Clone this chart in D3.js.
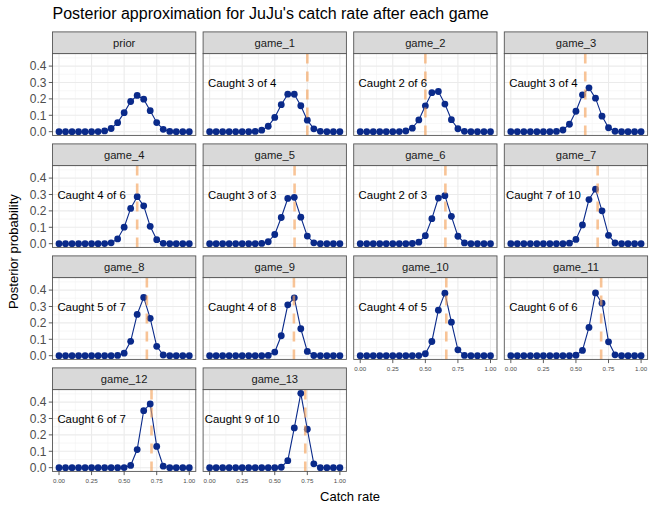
<!DOCTYPE html>
<html><head><meta charset="utf-8">
<script src="https://cdn.jsdelivr.net/npm/d3@7/dist/d3.min.js"></script>
<style>body{margin:0;background:#fff}svg{display:block}</style>
</head><body><svg id="c" width="655" height="508"></svg>
<script>
// ---- data ----
const theta = [0,0.05,0.1,0.15,0.2,0.25,0.3,0.35,0.4,0.45,0.5,0.55,0.6,0.65,0.7,0.75,0.8,0.85,0.9,0.95,1];
const panelNames = ["prior","game_1","game_2","game_3","game_4","game_5","game_6","game_7","game_8","game_9","game_10","game_11","game_12","game_13"];
const prior   = [0,0,0,0,0,0.0001,0.0008,0.0048,0.0194,0.0552,0.1161,0.1840,0.2211,0.1983,0.1282,0.0558,0.0144,0.0017,0.0001,0,0];
const game_1  = [0,0,0,0,0,0,0.0002,0.0016,0.0089,0.0331,0.0868,0.1648,0.2285,0.2282,0.1580,0.0704,0.0176,0.0019,0,0,0];
const game_2  = [0,0,0,0,0,0,0.0005,0.0041,0.0215,0.0714,0.1578,0.2380,0.2451,0.1684,0.0730,0.0180,0.0021,0.0001,0,0,0];
const game_3  = [0,0,0,0,0,0,0.0001,0.0014,0.0104,0.0452,0.1245,0.2250,0.2674,0.2044,0.0948,0.0240,0.0027,0.0001,0,0,0];
const game_4  = [0,0,0,0,0,0,0,0.0005,0.0050,0.0289,0.1005,0.2153,0.2864,0.2308,0.1058,0.0245,0.0023,0.0001,0,0,0];
const game_5  = [0,0,0,0,0,0,0,0.0001,0.0014,0.0117,0.0559,0.1596,0.2757,0.2824,0.1617,0.0461,0.0052,0.0001,0,0,0];
const game_6  = [0,0,0,0,0,0,0,0.0001,0.0010,0.0092,0.0491,0.1524,0.2784,0.2930,0.1668,0.0454,0.0047,0.0001,0,0,0];
const game_7  = [0,0,0,0,0,0,0,0,0.0002,0.0031,0.0258,0.1141,0.2691,0.3322,0.2001,0.0511,0.0043,0.0001,0,0,0];
const game_8  = [0,0,0,0,0,0,0,0,0,0.0013,0.0152,0.0875,0.2519,0.3552,0.2277,0.0570,0.0042,0,0,0,0];
const game_9  = [0,0,0,0,0,0,0,0,0.0001,0.0018,0.0220,0.1217,0.3100,0.3529,0.1642,0.0262,0.0010,0,0,0,0];
const game_10 = [0,0,0,0,0,0,0,0,0,0.0007,0.0119,0.0866,0.2778,0.3812,0.2045,0.0358,0.0014,0,0,0,0];
const game_11 = [0,0,0,0,0,0,0,0,0,0.0001,0.0025,0.0319,0.1726,0.3828,0.3203,0.0847,0.0051,0,0,0,0];
const game_12 = [0,0,0,0,0,0,0,0,0,0,0.0007,0.0137,0.1107,0.3474,0.3887,0.1296,0.0091,0.0001,0,0,0];
const game_13 = [0,0,0,0,0,0,0,0,0,0,0.0001,0.0027,0.0430,0.2427,0.4535,0.2344,0.0235,0.0002,0,0,0];
const posteriors = [prior,game_1,game_2,game_3,game_4,game_5,game_6,game_7,game_8,game_9,game_10,game_11,game_12,game_13];
const caught  = [null,3,2,3,4,3,2,7,5,4,4,6,6,9];
const targets = [null,4,6,4,6,3,3,10,7,8,5,6,7,10];
const cumRate = [null,0.75,0.5,0.5714,0.6,0.6522,0.6538,0.6667,0.6744,0.6471,0.6607,0.6935,0.7101,0.7342];
const xTicks = [0,0.25,0.5,0.75,1];
const xTickLabels = ["0.00","0.25","0.50","0.75","1.00"];
const xMinor = [0.125,0.375,0.625,0.875];
const yTicks = [0,0.1,0.2,0.3,0.4];
const yTickLabels = ["0.0","0.1","0.2","0.3","0.4"];
const yMinor = [0.05,0.15,0.25,0.35,0.45];
const labelX = 0.25, labelY = 0.3;

// ---- layout ----
const FONT = "'Liberation Sans', Arial, Helvetica, sans-serif";
const ncol = 4;
const left0 = 52.5, colPitch = 150.6, panelW = 143.3;
const stripTop0 = 31.9, stripH = 21.7, panelH = 81.8, rowPitch = 112;
const pointColor = "#0a2a8a";
const vlineColor = "#F4A460";
const borderColor = "#555";

const svg = d3.select("#c").style("font-family", FONT);
svg.append("rect").attr("width",655).attr("height",508).attr("fill","#fff");

const x = d3.scaleLinear().domain([-0.05,1.05]).range([0,panelW]);
const yMaxV = d3.max(posteriors.flat());
const y = d3.scaleLinear().domain([-0.05*yMaxV, yMaxV*1.05]).range([panelH,0]);

svg.append("text").attr("x", left0).attr("y", 19.3)
  .attr("font-size", 16).attr("fill","#000")
  .text("Posterior approximation for JuJu's catch rate after each game");

const n = panelNames.length;
panelNames.forEach((name, i) => {
  const r = Math.floor(i/ncol), c = i % ncol;
  const px = left0 + c*colPitch;
  const st = stripTop0 + r*rowPitch;
  const py = st + stripH;
  const g = svg.append("g").attr("transform", `translate(${px},${py})`);
  // grid
  const grid = g.append("g");
  grid.selectAll(".xm").data(xMinor).join("line")
    .attr("x1",d=>x(d)).attr("x2",d=>x(d)).attr("y1",0).attr("y2",panelH)
    .attr("stroke","#f2f2f2").attr("stroke-width",0.6);
  grid.selectAll(".ym").data(yMinor.filter(v=>y(v)>0)).join("line")
    .attr("y1",d=>y(d)).attr("y2",d=>y(d)).attr("x1",0).attr("x2",panelW)
    .attr("stroke","#f2f2f2").attr("stroke-width",0.6);
  grid.selectAll(".xM").data(xTicks).join("line")
    .attr("x1",d=>x(d)).attr("x2",d=>x(d)).attr("y1",0).attr("y2",panelH)
    .attr("stroke","#ebebeb").attr("stroke-width",1.1);
  grid.selectAll(".yM").data(yTicks).join("line")
    .attr("y1",d=>y(d)).attr("y2",d=>y(d)).attr("x1",0).attr("x2",panelW)
    .attr("stroke","#ebebeb").attr("stroke-width",1.1);

  const vals = posteriors[i];
  const pts = theta.map((t,k)=>[t, vals[k]]);
  g.append("path").datum(pts)
    .attr("d", d3.line().x(d=>x(d[0])).y(d=>y(d[1])))
    .attr("fill","none").attr("stroke",pointColor).attr("stroke-width",1.1);
  g.selectAll("circle").data(pts).join("circle")
    .attr("cx",d=>x(d[0])).attr("cy",d=>y(d[1])).attr("r",3.4)
    .attr("fill",pointColor);

  if (caught[i] !== null) {
    g.append("line").attr("x1",x(cumRate[i])).attr("x2",x(cumRate[i]))
      .attr("y1",panelH).attr("y2",0)
      .attr("stroke",vlineColor).attr("stroke-opacity",0.65)
      .attr("stroke-width",2.6).attr("stroke-dasharray","10,8");
    g.append("text").attr("x",x(labelX)).attr("y",y(labelY)).attr("dy","0.36em")
      .attr("text-anchor","middle").attr("font-size",11.4).attr("fill","#000")
      .text(`Caught ${caught[i]} of ${targets[i]}`);
  }

  g.append("rect").attr("x",0).attr("y",0).attr("width",panelW).attr("height",panelH)
    .attr("fill","none").attr("stroke",borderColor).attr("stroke-width",0.9);

  // strip
  svg.append("rect").attr("x",px).attr("y",st).attr("width",panelW).attr("height",stripH)
    .attr("fill","#d9d9d9").attr("stroke",borderColor).attr("stroke-width",0.9);
  svg.append("text").attr("x",px+panelW/2).attr("y",st+stripH/2).attr("dy","0.35em")
    .attr("text-anchor","middle").attr("font-size",11.2).attr("fill","#1a1a1a").text(name);

  // y axis
  if (c === 0) {
    const ya = g.append("g");
    ya.selectAll("line").data(yTicks).join("line")
      .attr("x1",-3.7).attr("x2",0).attr("y1",d=>y(d)).attr("y2",d=>y(d))
      .attr("stroke","#333").attr("stroke-width",0.8);
    ya.selectAll("text").data(yTicks).join("text")
      .attr("x",-6).attr("y",d=>y(d)).attr("dy","0.36em").attr("text-anchor","end")
      .attr("font-size",12).attr("fill","#4d4d4d").text((d,k)=>yTickLabels[k]);
  }
  // x axis where nothing below
  if (i + ncol >= n) {
    const xa = g.append("g").attr("transform",`translate(0,${panelH})`);
    xa.selectAll("line").data(xTicks).join("line")
      .attr("x1",d=>x(d)).attr("x2",d=>x(d)).attr("y1",0).attr("y2",3.7)
      .attr("stroke","#333").attr("stroke-width",0.8);
    xa.selectAll("text").data(xTicks).join("text")
      .attr("x",d=>x(d)).attr("y",11.4).attr("text-anchor","middle")
      .attr("font-size",6.2).attr("fill","#4d4d4d").text((d,k)=>xTickLabels[k]);
  }
});

const plotBottom = stripTop0 + 3*rowPitch + stripH + panelH;
svg.append("text").attr("x", left0 + (3*colPitch + panelW)/2).attr("y", 501)
  .attr("text-anchor","middle").attr("font-size",13).attr("fill","#000").text("Catch rate");
svg.append("text").attr("transform",`translate(17.5,${(stripTop0+plotBottom)/2}) rotate(-90)`)
  .attr("text-anchor","middle").attr("font-size",13).attr("fill","#000").text("Posterior probability");
</script></body></html>
